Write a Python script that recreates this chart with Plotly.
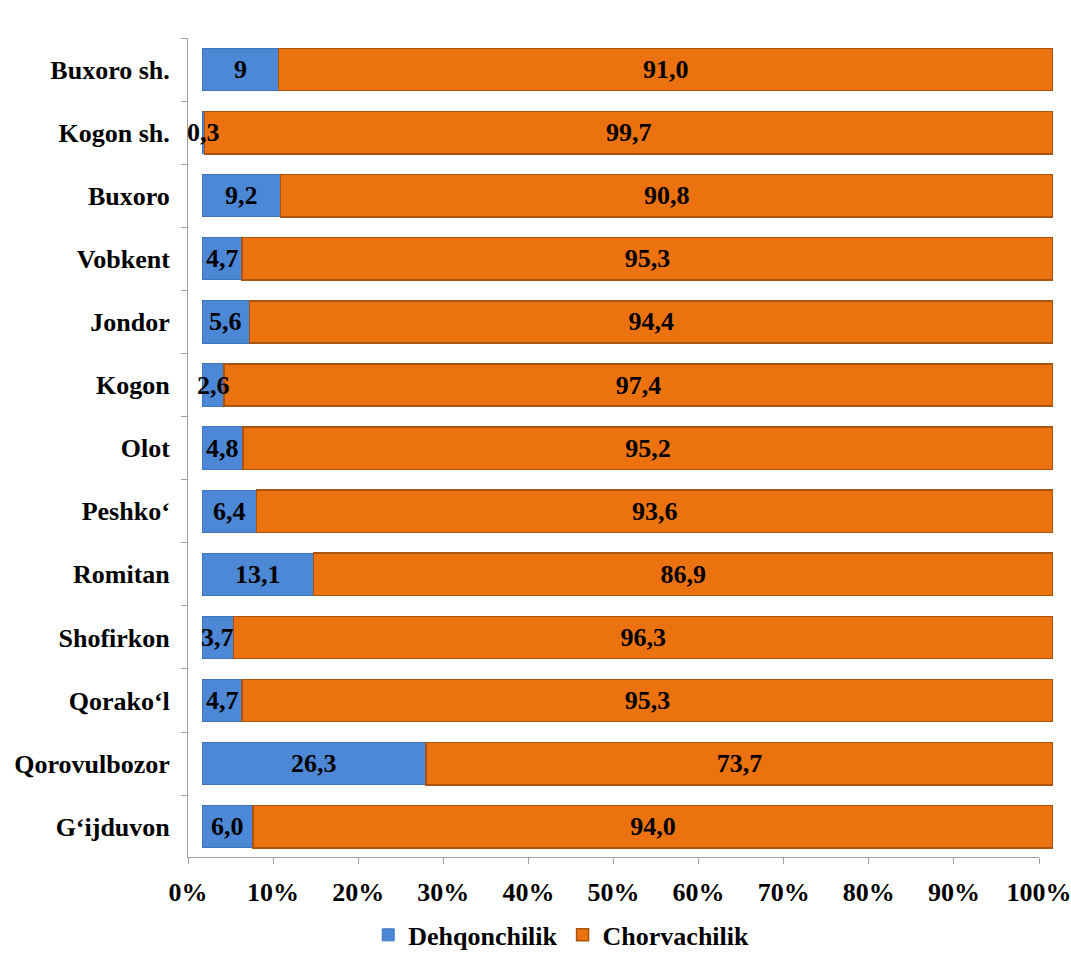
import plotly.graph_objects as go

categories = ["Buxoro sh.", "Kogon sh.", "Buxoro", "Vobkent", "Jondor", "Kogon", "Olot",
              "Peshko‘", "Romitan", "Shofirkon", "Qorako‘l", "Qorovulbozor", "G‘ijduvon"]
dehqon = [9, 0.3, 9.2, 4.7, 5.6, 2.6, 4.8, 6.4, 13.1, 3.7, 4.7, 26.3, 6.0]
chorva = [91.0, 99.7, 90.8, 95.3, 94.4, 97.4, 95.2, 93.6, 86.9, 96.3, 95.3, 73.7, 94.0]
dehqon_labels = ["9", "0,3", "9,2", "4,7", "5,6", "2,6", "4,8", "6,4", "13,1", "3,7", "4,7", "26,3", "6,0"]
chorva_labels = ["91,0", "99,7", "90,8", "95,3", "94,4", "97,4", "95,2", "93,6", "86,9", "96,3", "95,3", "73,7", "94,0"]
x_ticks = [0, 10, 20, 30, 40, 50, 60, 70, 80, 90, 100]
x_tick_text = [f"{t}%" for t in x_ticks]

font_family = "Liberation Serif, Times New Roman, serif"
FS = 26
label_font = dict(family=font_family, size=FS, color="black", weight="bold")

W, H = 1071, 955
ML, MR, MT, MB = 188, 18, 38, 98
PW = W - ML - MR
DEPTH = 14  # pseudo-3D offset of the bars

fig = go.Figure()
fig.add_trace(go.Bar(
    y=categories, x=dehqon, orientation="h", name="Dehqonchilik",
    marker=dict(color="#4d88d6", line=dict(color="#3f74bd", width=1)),
    textposition="none", xaxis="x", yaxis="y", cliponaxis=False,
))
fig.add_trace(go.Bar(
    y=categories, x=chorva, orientation="h", name="Chorvachilik",
    marker=dict(color="#ec720f", line=dict(color="#a9540e", width=1.5)),
    text=chorva_labels, textposition="inside", insidetextanchor="middle",
    textangle=0, textfont=label_font, xaxis="x", yaxis="y", cliponaxis=False,
))
# invisible trace carrying the visible percentage / category axes
fig.add_trace(go.Scatter(x=[0, 100], y=[categories[0], categories[-1]], mode="markers",
                         marker=dict(opacity=0), showlegend=False, hoverinfo="skip",
                         xaxis="x2", yaxis="y2"))

for cat, v, lab in zip(categories, dehqon, dehqon_labels):
    fig.add_annotation(x=v / 2, y=cat, xref="x", yref="y", text=lab, showarrow=False,
                       font=label_font, xanchor="center", yanchor="middle")

cat_axis_common = dict(categoryorder="array", categoryarray=categories[::-1],
                       range=[-0.48, 12.5], showgrid=False, zeroline=False, automargin=False)

fig.update_layout(
    barmode="stack",
    bargap=0.33,
    width=W, height=H,
    margin=dict(l=ML, r=MR, t=MT, b=MB, autoexpand=False),
    plot_bgcolor="rgba(0,0,0,0)", paper_bgcolor="white",
    font=dict(family=font_family, size=FS, color="black", weight="bold"),
    showlegend=True,
    legend=dict(orientation="h", xref="container", x=0.524, xanchor="center",
                yref="container", y=0.021, yanchor="middle",
                font=dict(family=font_family, size=FS, color="black", weight="bold"),
                traceorder="normal", itemwidth=30),
    xaxis=dict(domain=[DEPTH / PW, 1], range=[0, 100], visible=False, automargin=False),
    yaxis=dict(anchor="x", showticklabels=False, showline=False, ticks="",
               **cat_axis_common),
    xaxis2=dict(domain=[0, (PW - DEPTH) / PW], range=[0, 100], anchor="y2",
                tickvals=x_ticks, ticktext=x_tick_text, ticklabeloverflow="allow",
                showgrid=False, zeroline=False, automargin=False,
                showline=True, linecolor="#a0a0a0", linewidth=1,
                ticks="outside", ticklen=6, tickcolor="#a0a0a0",
                tickfont=dict(family=font_family, size=FS, color="black", weight="bold"),
                ticklabelstandoff=6),
    yaxis2=dict(anchor="x2", overlaying="y", side="left",
                showline=True, linecolor="#a0a0a0", linewidth=1,
                ticks="outside", ticklen=6, tickcolor="#a0a0a0", tickson="boundaries",
                tickfont=dict(family=font_family, size=FS, color="black", weight="bold"),
                ticklabelstandoff=12, **cat_axis_common),
)

fig.write_html("out.html", config={"displayModeBar": False},
               post_script="document.body.style.margin='0';")
